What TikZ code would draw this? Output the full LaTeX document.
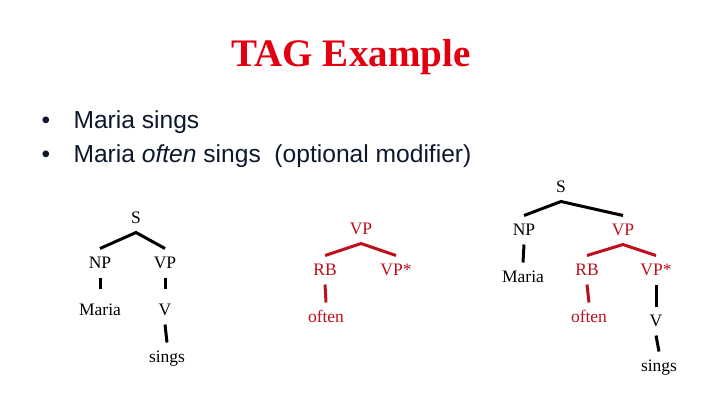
\documentclass[tikz,border=0pt]{standalone}
\usepackage{fontspec}
\setmainfont{Liberation Serif}
\newfontfamily\bulletfont{Liberation Sans}
\definecolor{titlered}{RGB}{226,0,16}
\definecolor{treered}{RGB}{190,16,28}
\definecolor{textnavy}{RGB}{14,24,44}

\begin{document}
\begin{tikzpicture}[x=1pt,y=-1pt,
  cat/.style={inner sep=0pt,outer xsep=0pt,outer ysep=9pt,text height=11pt,text depth=0pt,
    font=\fontsize{17.5}{20}\selectfont},
  adj/.style={cat,text=treered},
  branch/.style={line width=3pt},
  adjbranch/.style={branch,draw=treered}]
\useasboundingbox[fill=white] (0,0) rectangle (720,405);
\node[text=titlered,font=\fontsize{39}{44}\selectfont\bfseries] (title) at (351,57) {TAG Example};
\foreach \y/\A [count=\i] in {128/{Maria sings},162/{Maria \textit{often} sings\ \ (optional modifier)}} {%
    \node[anchor=base,text=textnavy,font=\bulletfont\fontsize{24.6}{28}\selectfont] (dot\i) at (46,\y) {\textbullet};
    \node[anchor=base west,text=textnavy,font=\bulletfont\fontsize{24.6}{28}\selectfont] (line\i) at (70,\y) {\A};
}
% initial tree
\node[cat] (aS) at (136,218) {S};
\node[cat] (aNP) at (100,263) {NP};
\node[cat] (aVP) at (165,263) {VP};
\node[cat] (aMaria) at (100,310) {Maria};
\node[cat] (aV) at (165,310) {V};
\node[cat] (asings) at (167,357) {sings};
\draw[branch] (aNP.north) -- (aS.south) -- (aVP.north);
\draw[branch,shorten >=7pt] (aNP.south) -- (aMaria.north);
\draw[branch,shorten >=7pt] (aVP.south) -- (aV.north);
\draw[branch] (aV.south) -- (asings.north);
% auxiliary tree
\node[adj] (bVP) at (361,229) {VP};
\node[adj] (bRB) at (325,270) {RB};
\node[adj] (bVPf) at (396,270) {VP*};
\node[adj] (boften) at (326,317) {often};
\draw[adjbranch] (bRB.north) -- (bVP.south) -- (bVPf.north);
\draw[adjbranch] (bRB.south) -- (boften.north);
% derived tree
\node[cat] (cS) at (561,187) {S};
\node[cat] (cNP) at (524,230) {NP};
\node[adj] (cVP) at (623,230) {VP};
\node[cat] (cMaria) at (523,277) {Maria};
\node[adj] (cRB) at (587,270) {RB};
\node[adj] (cVPf) at (656,270) {VP*};
\node[adj] (coften) at (589,317) {often};
\node[cat] (cV) at (656,321) {V};
\node[cat] (csings) at (659,366) {sings};
\draw[branch] (cNP.north) -- (cS.south) -- (cVP.north);
\draw[branch] (cNP.south) -- (cMaria.north);
\draw[adjbranch] (cRB.north) -- (cVP.south) -- (cVPf.north);
\draw[adjbranch] (cRB.south) -- (coften.north);
\draw[branch] (cVPf.south) -- (cV.north);
\draw[branch] (cV.south) -- (csings.north);
\end{tikzpicture}
\end{document}
